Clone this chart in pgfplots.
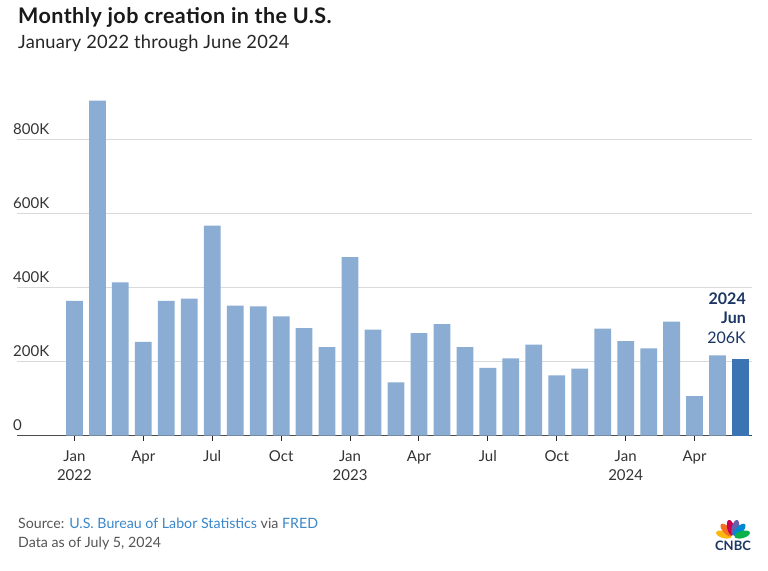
\documentclass[border=0pt]{standalone}
\usepackage{pgfplots}
\pgfplotsset{compat=1.18}
\usepackage{fontspec}
\setmainfont{Lato}
\definecolor{barc}{HTML}{8BADD3}
\definecolor{lastc}{HTML}{3B74B2}
\definecolor{navy}{HTML}{1B3564}
\definecolor{gridc}{HTML}{DADADA}
\definecolor{txt}{HTML}{333333}
\definecolor{foot}{HTML}{555555}
\definecolor{link}{HTML}{3A87C9}
\begin{document}
\begin{tikzpicture}[x=1pt,y=1pt]
\path[use as bounding box, fill=white] (0,0) rectangle (768,570);
\begin{axis}[
  at={(17pt,134.3pt)}, anchor=south west,
  scale only axis, width=735pt, height=340.9pt,
  xmin=-2.5, xmax=29.5, ymin=0, ymax=920,
  axis x line*=bottom, axis y line*=left,
  y axis line style={draw=none},
  x axis line style={draw=black!70, line width=1.5pt},
  ytick={0,200,400,600,800},
  yticklabels={0,200K,400K,600K,800K},
  ytick style={draw=none},
  ymajorgrids, grid style={gridc, line width=1pt},
  yticklabel style={anchor=base west, inner sep=0pt, xshift=1pt, yshift=5pt, font=\fontsize{15}{18}\selectfont, text=txt},
  xtick={0,3,6,9,12,15,18,21,24,27},
  xticklabels={{Jan\\2022},Apr,Jul,Oct,{Jan\\2023},Apr,Jul,Oct,{Jan\\2024},Apr},
  xticklabel style={anchor=north, align=center, inner sep=0pt, yshift=-10pt, font=\fontsize{15}{19}\selectfont, text=txt},
  x tick style={draw=black!85, line width=1pt},
  major tick length=5pt, tick align=outside,
  /pgf/number format/assume math mode=true,
  clip=false,
]
\addplot[ybar, bar width=0.73, bar shift=0pt, fill=barc, draw=none] coordinates {
(0,364) (1,904) (2,414) (3,253) (4,364) (5,370) (6,567) (7,351) (8,349) (9,322)
(10,290) (11,239) (12,482) (13,286) (14,144) (15,277) (16,301) (17,239) (18,183) (19,209)
(20,246) (21,163) (22,181) (23,289) (24,255) (25,236) (26,308) (27,107) (28,217)
};
\addplot[ybar, bar width=0.73, bar shift=0pt, fill=lastc, draw=none] coordinates {(29,206)};
\end{axis}
% annotation
\node[anchor=base east, inner sep=0pt, text=navy, font=\fontsize{16}{19}\bfseries\selectfont] at (746,265.7) {2024};
\node[anchor=base east, inner sep=0pt, text=navy, font=\fontsize{16}{19}\bfseries\selectfont] at (746,246) {Jun};
\node[anchor=base east, inner sep=0pt, text=navy, font=\fontsize{16}{19}\selectfont] at (746,226.7) {206K};
% titles
\node[anchor=base west, inner sep=0pt, font=\fontsize{21.5}{25}\bfseries\selectfont\addfontfeatures{LetterSpace=2}, text=black!90] at (18,546) {Monthly job creation in the U.S.};
\node[anchor=base west, inner sep=0pt, font=\fontsize{18.3}{22}\selectfont\addfontfeatures{LetterSpace=1}, text=black!85] at (18,521.7) {January 2022 through June 2024};
% footer
\node[anchor=base west, inner sep=0pt, font=\fontsize{14.2}{17}\selectfont, text=foot] at (18,41) {Source: \textcolor{link}{U.S. Bureau of Labor Statistics} via \textcolor{link}{FRED}};
\node[anchor=base west, inner sep=0pt, font=\fontsize{14.2}{17}\selectfont, text=foot] at (18,22) {Data as of July 5, 2024};
% logo
\begin{scope}[shift={(733,33)}]
\foreach \ang/\col in {165/FCB711,133/F37021,104/CC004C,76/6460AA,47/0089D0,15/0DB14B}{
  \definecolor{fc}{HTML}{\col}
  \fill[fc, rotate=\ang] (9.5,0) ellipse (8 and 3.6);
}
\fill[white] (0,0) circle (1.8);
\end{scope}
\node[anchor=base, inner sep=0pt, text=navy, font=\fontsize{13}{15}\bfseries\selectfont] at (733,19.5) {CNBC};
\end{tikzpicture}
\end{document}
